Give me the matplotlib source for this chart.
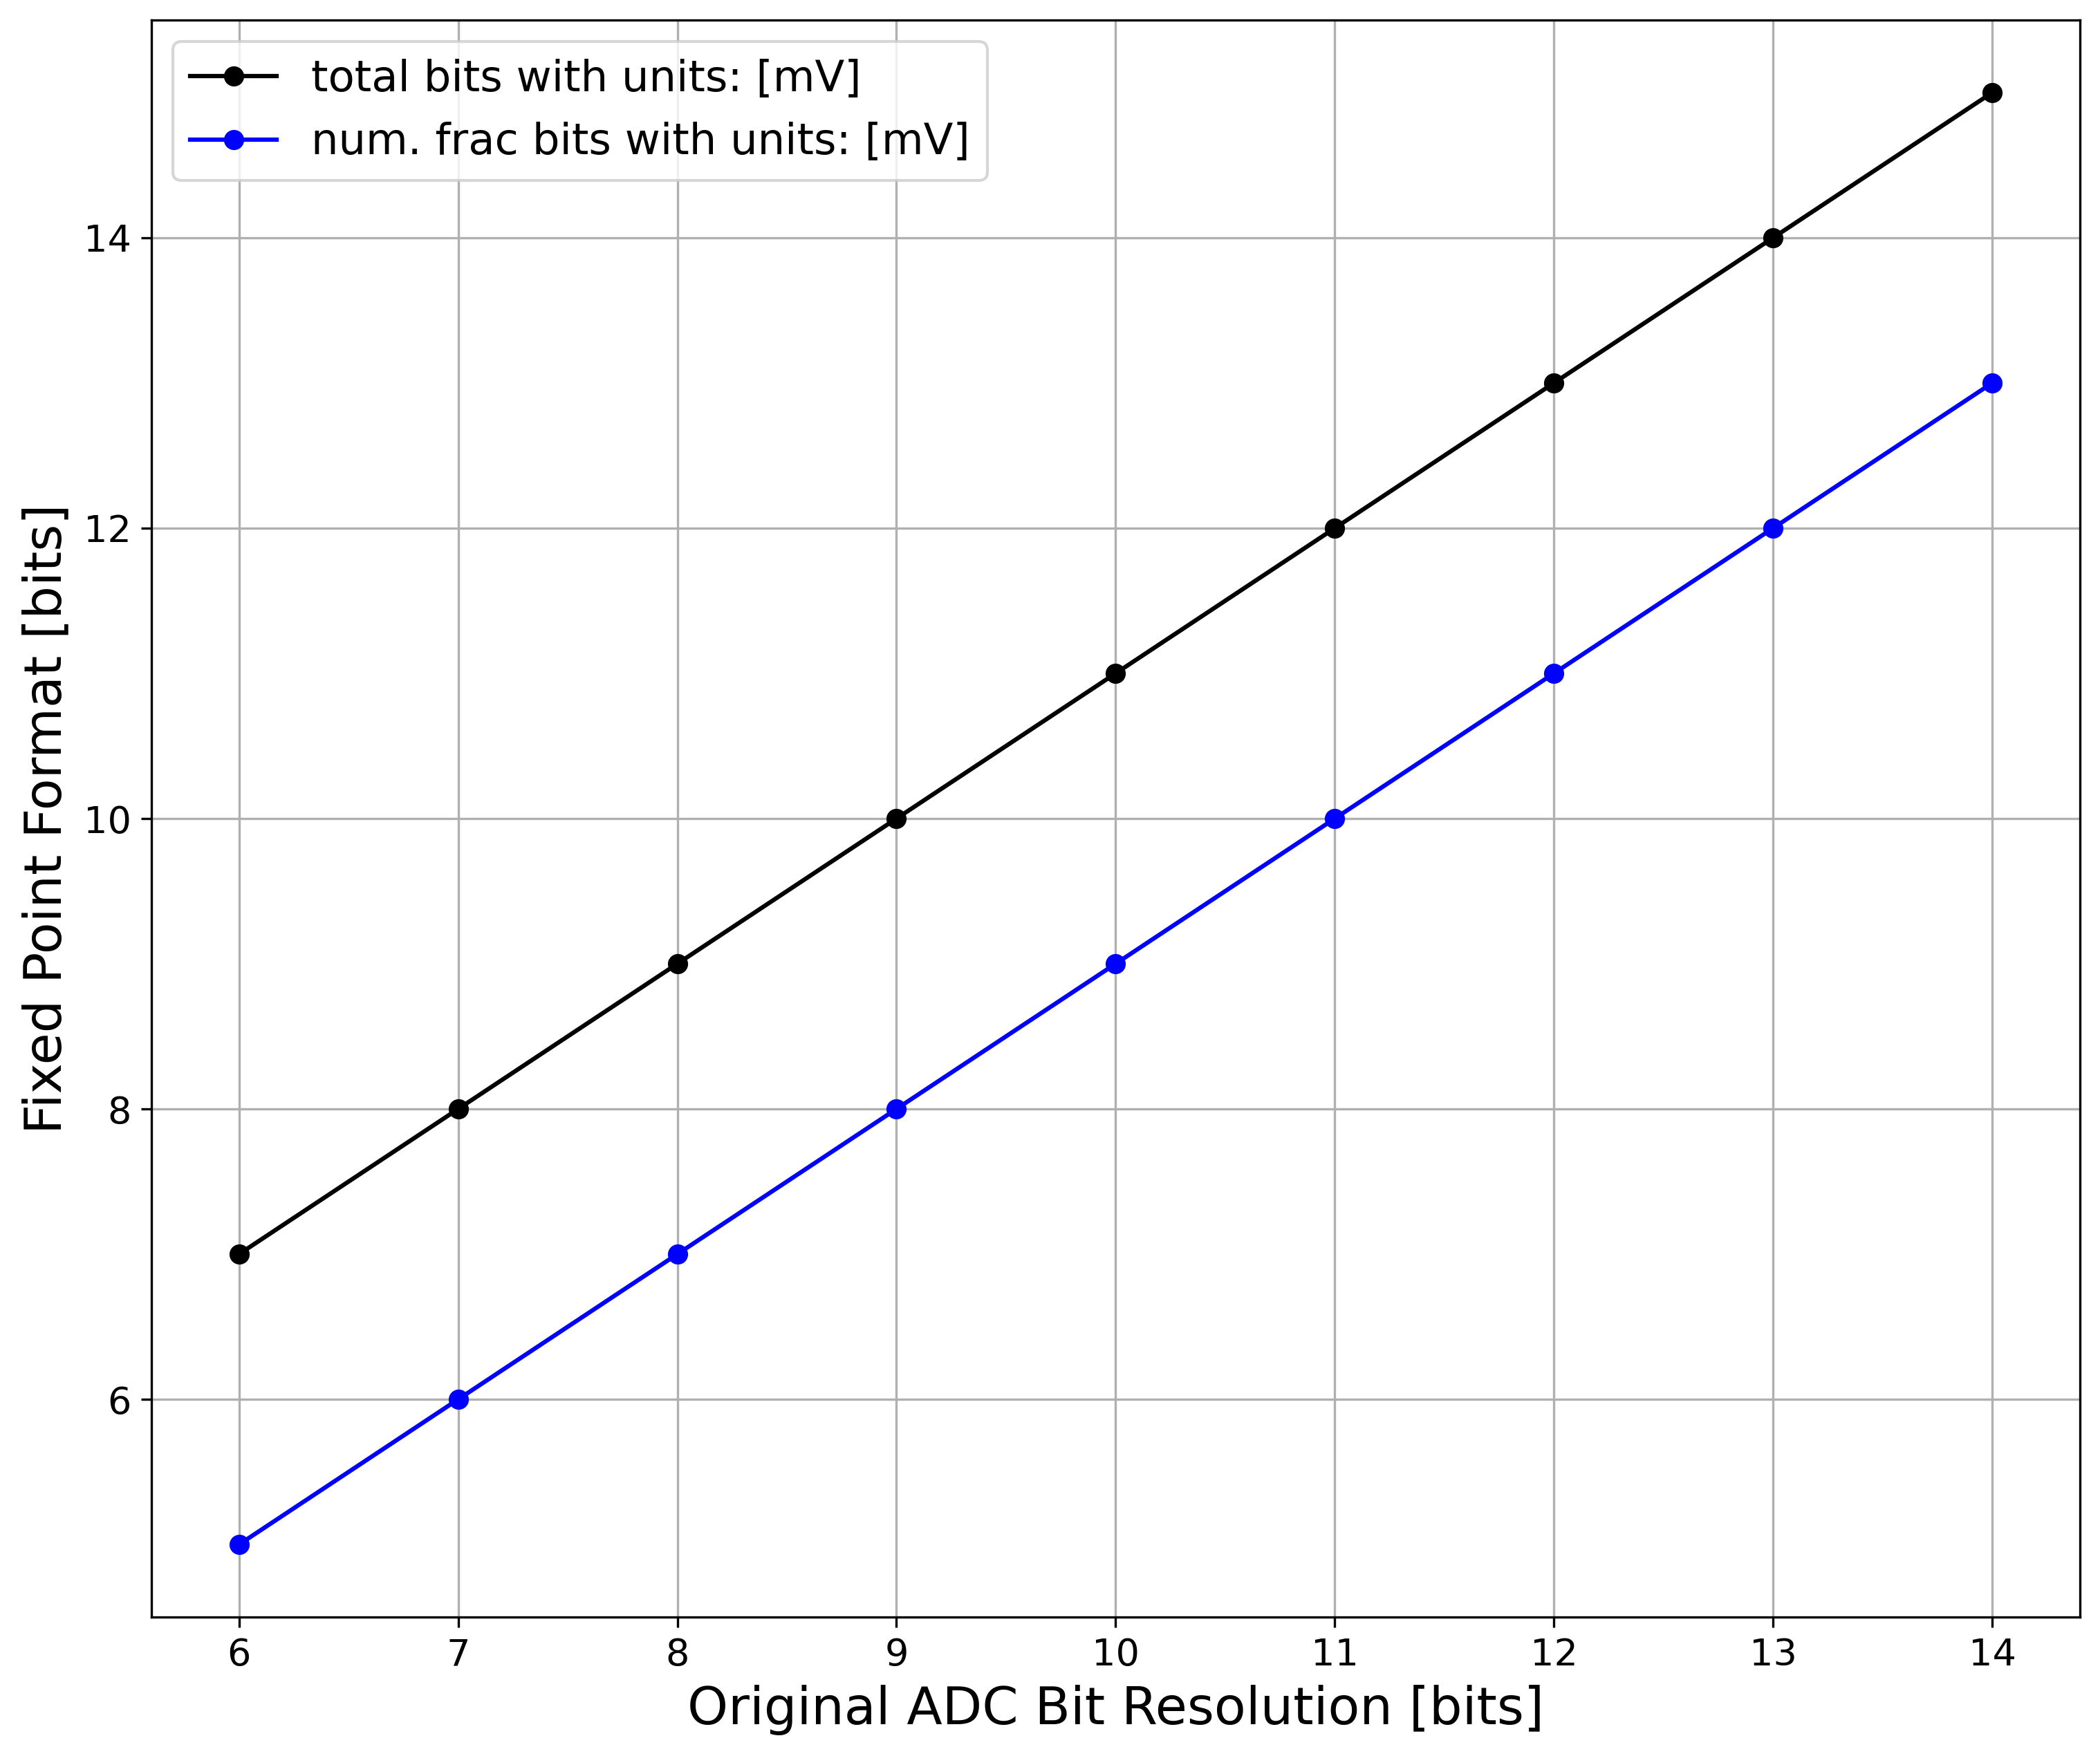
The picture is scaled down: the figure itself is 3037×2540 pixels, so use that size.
import numpy as np
import matplotlib
matplotlib.use('Agg')
import matplotlib.pyplot as plt

# ADC resolutions and resulting fixed point formats
adc_bits = [6, 7, 8, 9, 10, 11, 12, 13, 14]
total_bits = [7, 8, 9, 10, 11, 12, 13, 14, 15]
frac_bits = [5, 6, 7, 8, 9, 10, 11, 12, 13]

# Create the figure and axis
fig = plt.figure(figsize=(3037 / 300, 2540 / 300))
ax = fig.add_axes([0.0721, 0.0791, 0.9183, 0.9095])

# Plot the data
ax.plot(adc_bits, total_bits, 'o-', color='black', label='total bits with units: [mV]')
ax.plot(adc_bits, frac_bits, 'o-', color='blue', label='num. frac bits with units: [mV]')

# Set axis labels
ax.set_xlabel('Original ADC Bit Resolution [bits]', fontsize=18)
ax.set_ylabel('Fixed Point Format [bits]', fontsize=18)
ax.tick_params(labelsize=13)

ax.grid(True)
ax.legend(loc='upper left', fontsize=15)

fig.savefig('out.png', dpi=300)
